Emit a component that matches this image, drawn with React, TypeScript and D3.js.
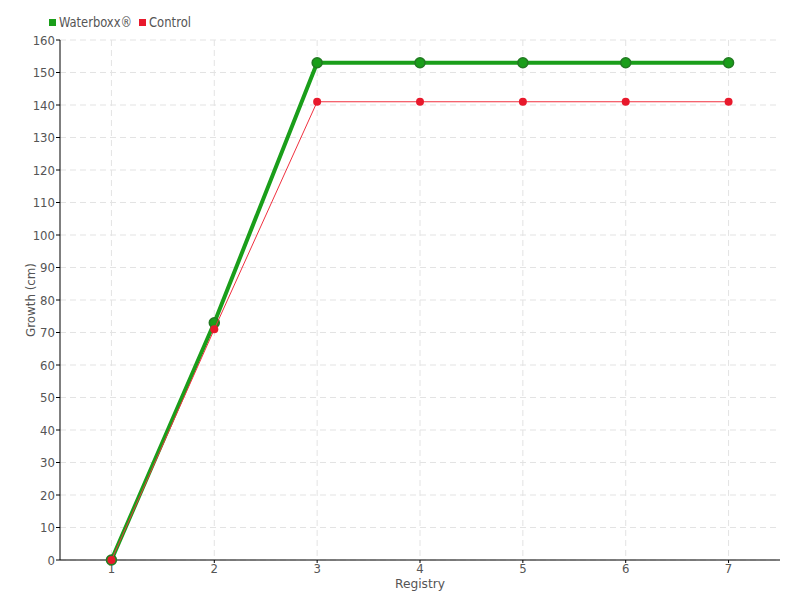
import React from "react";
import * as d3 from "d3";

const categories = [1, 2, 3, 4, 5, 6, 7];
const waterboxx = [0, 73, 153, 153, 153, 153, 153];
const control = [0, 71, 141, 141, 141, 141, 141];
const yTicks = d3.range(0, 161, 10);

const W = 800, H = 600;
const m = { left: 60, right: 20, top: 40, bottom: 40 };
const FONT = "'DejaVu Sans Condensed', 'Liberation Sans Narrow', 'Roboto', sans-serif";

export default function App() {
  const x = d3.scalePoint<number>().domain(categories).range([m.left, W - m.right]).padding(0.5);
  const y = d3.scaleLinear().domain([0, 160]).range([H - m.bottom, m.top]);
  const line = d3.line<number>().x((_, i) => x(categories[i])!).y((d) => y(d));
  return (
    <svg width={W} height={H} style={{ position: "absolute", left: 0, top: 0, fontFamily: FONT, fontStretch: "condensed" }}>
      <rect width={W} height={H} fill="#fff" />
      {yTicks.map((t) => (
        <line key={"gy" + t} x1={m.left} x2={W - m.right} y1={y(t)} y2={y(t)} stroke="#e3e3e3" strokeDasharray="6,4" />
      ))}
      {categories.map((c) => (
        <line key={"gx" + c} x1={x(c)} x2={x(c)} y1={m.top} y2={H - m.bottom} stroke="#e3e3e3" strokeDasharray="6,4" />
      ))}
      <line x1={m.left} x2={m.left} y1={m.top} y2={H - m.bottom} stroke="#000" />
      <line x1={m.left} x2={W - m.right} y1={H - m.bottom} y2={H - m.bottom} stroke="#000" />
      {yTicks.map((t) => (
        <g key={"ty" + t}>
          <line x1={m.left - 4} x2={m.left} y1={y(t)} y2={y(t)} stroke="#000" />
          <text x={m.left - 5} y={y(t)} dy="0.35em" textAnchor="end" fontSize={13} fill="#555">{t}</text>
        </g>
      ))}
      {categories.map((c) => (
        <g key={"tx" + c}>
          <line x1={x(c)} x2={x(c)} y1={H - m.bottom} y2={H - m.bottom + 3} stroke="#000" />
          <text x={x(c)} y={H - m.bottom + 13} textAnchor="middle" fontSize={13} fill="#555">{c}</text>
        </g>
      ))}
      <text x={(m.left + W - m.right) / 2} y={588} textAnchor="middle" fontSize={13} fill="#555" textLength={50} lengthAdjust="spacingAndGlyphs">Registry</text>
      <text transform={`translate(35,${(m.top + H - m.bottom) / 2}) rotate(-90)`} textAnchor="middle" fontSize={13} fill="#555" textLength={74} lengthAdjust="spacingAndGlyphs">Growth (cm)</text>
      <path d={line(waterboxx)!} fill="none" stroke="#1a9e1a" strokeWidth={4} />
      {waterboxx.map((v, i) => (
        <circle key={"w" + i} cx={x(categories[i])} cy={y(v)} r={5} fill="#1a9e1a" stroke="#237a23" strokeWidth={1.5} />
      ))}
      <path d={line(control)!} fill="none" stroke="#f0303f" strokeWidth={1} />
      {control.map((v, i) => (
        <circle key={"c" + i} cx={x(categories[i])} cy={y(v)} r={4} fill="#e8192c" />
      ))}
      <rect x={49} y={19} width={7} height={7} fill="#1a9e1a" />
      <text x={59} y={22} dy="0.35em" fontSize={14} fill="#555" textLength={73} lengthAdjust="spacingAndGlyphs">Waterboxx®</text>
      <rect x={139} y={19} width={7} height={7} fill="#e8192c" />
      <text x={149} y={22} dy="0.35em" fontSize={14} fill="#555" textLength={42} lengthAdjust="spacingAndGlyphs">Control</text>
    </svg>
  );
}
